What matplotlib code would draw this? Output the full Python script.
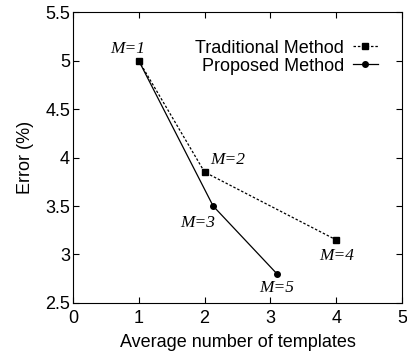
import matplotlib
matplotlib.use("Agg")
import matplotlib.pyplot as plt

trad_x = [1, 2, 4]
trad_y = [5.0, 3.85, 3.15]
prop_x = [1, 2.13, 3.1]
prop_y = [5.0, 3.5, 2.8]
labels = ["M=1", "M=2", "M=3", "M=4", "M=5"]
label_pts = [(1, 5.0), (2, 3.85), (2.13, 3.5), (4, 3.15), (3.1, 2.8)]
label_offsets = [(-8, 8.5), (16.5, 9), (-11, -12), (0, -11.5), (0, -10.5)]

plt.rcParams['font.family'] = ['Liberation Sans', 'DejaVu Sans']
fig = plt.figure(figsize=(4.07, 3.56), dpi=100)
ax = fig.add_axes([0.179, 0.149, 0.809, 0.817])

ax.plot(trad_x, trad_y, color='black', lw=0.9, linestyle=(0, (2, 1.5)),
        marker='s', markersize=4.5, label='Traditional Method')
ax.plot(prop_x, prop_y, color='black', lw=0.9, linestyle='-',
        marker='o', markersize=4, label='Proposed Method')

for lab, (x, y), (dx, dy) in zip(labels, label_pts, label_offsets):
    ax.annotate(lab, (x, y), xytext=(dx, dy), textcoords='offset points',
                ha='center', va='center', fontsize=12.5,
                family=['Liberation Serif', 'DejaVu Serif'], fontstyle='italic')

ax.set_xlim(0, 5)
ax.set_ylim(2.5, 5.5)
ax.set_xticks([0, 1, 2, 3, 4, 5])
ax.set_yticks([2.5, 3, 3.5, 4, 4.5, 5, 5.5])
ax.set_yticklabels(['2.5', '3', '3.5', '4', '4.5', '5', '5.5'])
ax.tick_params(direction='in', top=True, right=True, labelsize=13, length=4, width=0.8, pad=2)
ax.tick_params(axis='x', pad=5)
ax.set_xlabel('Average number of templates', fontsize=13, labelpad=5)
ax.set_ylabel('Error (%)', fontsize=13, labelpad=8)
for s in ax.spines.values():
    s.set_linewidth(0.8)

ax.legend(loc='upper right', bbox_to_anchor=(0.927, 0.905), frameon=False, markerfirst=False,
          fontsize=13, handlelength=1.4, handletextpad=0.5, labelspacing=0.05, borderaxespad=0,
          borderpad=0)

fig.savefig('out.png', dpi=100)
